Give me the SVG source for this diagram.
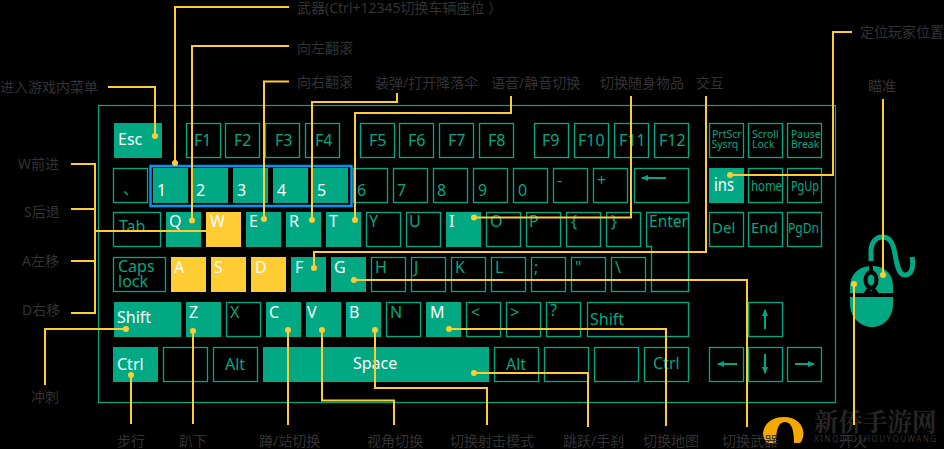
<svg xmlns="http://www.w3.org/2000/svg" width="944" height="449" viewBox="0 0 944 449">
<style>
text{font-family:"Noto Sans","Noto Sans CJK SC",sans-serif;font-size:16px}
.o rect,.o path.b{fill:none;stroke:#00a884;stroke-width:1.3}
.o text{fill:#00a884}
.f rect{fill:#00a884}
.f text{fill:#fff}
.y rect{fill:#ffcc33}
.y text{fill:#fff}
.s text{font-size:15px}
.m text{font-size:10.500px}
.l{fill:#333;font-size:14px}
.ar{fill:none;stroke:#00a884;stroke-width:2;marker-end:url(#ah)}
#connectors path{fill:none;stroke:#ffcc33;stroke-width:2}
#connectors circle{fill:#ffcc33}
</style>
<defs>
<marker id="ah" markerWidth="8" markerHeight="6" refX="6" refY="3" orient="auto" markerUnits="userSpaceOnUse"><path d="M0 0L7 3L0 6Z" fill="#00a884"/></marker>
</defs>
<rect width="944" height="449" fill="#000"/>
<rect id="frame" x="98.500" y="105.500" width="737" height="297" fill="none" stroke="#00a884" stroke-width="1.200"/>

<g id="key-esc" class="f"><rect x="114" y="123" width="48" height="35"/><text x="118" y="145">Esc</text></g>
<g id="key-f1" class="o"><rect x="186.500" y="123.500" width="34" height="34"/><text x="194" y="146">F1</text></g>
<g id="key-f2" class="o"><rect x="225.500" y="123.500" width="34" height="34"/><text x="234" y="146">F2</text></g>
<g id="key-f3" class="o"><rect x="265.500" y="123.500" width="34" height="34"/><text x="275" y="146">F3</text></g>
<g id="key-f4" class="o"><rect x="305.500" y="123.500" width="34" height="34"/><text x="315" y="146">F4</text></g>
<g id="key-f5" class="o"><rect x="360.500" y="123.500" width="34" height="34"/><text x="369" y="146">F5</text></g>
<g id="key-f6" class="o"><rect x="399.500" y="123.500" width="34" height="34"/><text x="408" y="146">F6</text></g>
<g id="key-f7" class="o"><rect x="439.500" y="123.500" width="34" height="34"/><text x="448" y="146">F7</text></g>
<g id="key-f8" class="o"><rect x="479.500" y="123.500" width="34" height="34"/><text x="488" y="146">F8</text></g>
<g id="key-f9" class="o"><rect x="534.500" y="123.500" width="34" height="34"/><text x="542" y="146">F9</text></g>
<g id="key-f10" class="o"><rect x="574.500" y="123.500" width="34" height="34"/><text x="578" y="146">F10</text></g>
<g id="key-f11" class="o"><rect x="614.500" y="123.500" width="34" height="34"/><text x="619" y="146">F11</text></g>
<g id="key-f12" class="o"><rect x="654.500" y="123.500" width="34" height="34"/><text x="659" y="146">F12</text></g>
<g id="key-prtscr" class="o m"><rect x="709.500" y="123.500" width="34" height="34"/><text x="712" y="138">PrtScr</text><text x="711.500" y="148">Sysrq</text></g>
<g id="key-scroll" class="o m"><rect x="748.500" y="123.500" width="34" height="34"/><text x="752" y="138">Scroll</text><text x="752" y="148">Lock</text></g>
<g id="key-pause" class="o m"><rect x="787.500" y="123.500" width="34" height="34"/><text x="791" y="138">Pause</text><text x="791" y="148">Break</text></g>

<g id="key-tilde" class="o"><rect x="113.500" y="168.500" width="34" height="34"/><text x="123" y="194">、</text></g>
<g id="key-1" class="f"><rect x="153" y="168" width="35" height="35"/><text x="157" y="196">1</text></g>
<g id="key-2" class="f"><rect x="193" y="168" width="35" height="35"/><text x="196" y="196">2</text></g>
<g id="key-3" class="f"><rect x="233" y="168" width="35" height="35"/><text x="237" y="196">3</text></g>
<g id="key-4" class="f"><rect x="273" y="168" width="35" height="35"/><text x="277" y="196">4</text></g>
<g id="key-5" class="f"><rect x="313" y="168" width="35" height="35"/><text x="317" y="196">5</text></g>
<g id="key-6" class="o"><rect x="353.500" y="168.500" width="34" height="34"/><text x="357" y="196">6</text></g>
<g id="key-7" class="o"><rect x="393.500" y="168.500" width="34" height="34"/><text x="397" y="196">7</text></g>
<g id="key-8" class="o"><rect x="433.500" y="168.500" width="34" height="34"/><text x="437" y="196">8</text></g>
<g id="key-9" class="o"><rect x="473.500" y="168.500" width="34" height="34"/><text x="478" y="196">9</text></g>
<g id="key-0" class="o"><rect x="513.500" y="168.500" width="34" height="34"/><text x="518" y="196">0</text></g>
<g id="key-minus" class="o"><rect x="553.500" y="168.500" width="34" height="34"/><text x="557" y="186">-</text></g>
<g id="key-plus" class="o"><rect x="593.500" y="168.500" width="34" height="34"/><text x="597" y="186">+</text></g>
<g id="key-back" class="o"><rect x="634.500" y="168.500" width="54" height="34"/><path class="ar" d="M666 178H642"/></g>
<g id="key-ins" class="f"><rect x="709" y="168" width="35" height="35"/><text x="714" y="191" textLength="20" lengthAdjust="spacingAndGlyphs" style="font-size:18px">ins</text></g>
<g id="key-home" class="o s"><rect x="748.500" y="168.500" width="34" height="34"/><text x="751" y="191" textLength="31" lengthAdjust="spacingAndGlyphs">home</text></g>
<g id="key-pgup" class="o s"><rect x="787.500" y="168.500" width="34" height="34"/><text x="791" y="191" textLength="28" lengthAdjust="spacingAndGlyphs">PgUp</text></g>

<g id="key-tab" class="o"><rect x="113.500" y="212.500" width="47" height="34"/><text x="119" y="232">Tab</text></g>
<g id="key-q" class="f"><rect x="166" y="212" width="35" height="35"/><text x="169" y="227">Q</text></g>
<g id="key-w" class="y"><rect x="206" y="212" width="35" height="35"/><text x="210" y="227">W</text></g>
<g id="key-e" class="f"><rect x="246" y="212" width="35" height="35"/><text x="249" y="227">E</text></g>
<g id="key-r" class="f"><rect x="286" y="212" width="35" height="35"/><text x="289" y="227">R</text></g>
<g id="key-t" class="f"><rect x="326" y="212" width="35" height="35"/><text x="329" y="227">T</text></g>
<g id="key-y" class="o"><rect x="366.500" y="212.500" width="34" height="34"/><text x="369" y="227">Y</text></g>
<g id="key-u" class="o"><rect x="406.500" y="212.500" width="34" height="34"/><text x="409" y="227">U</text></g>
<g id="key-i" class="f"><rect x="446" y="212" width="35" height="35"/><text x="449" y="227">I</text></g>
<g id="key-o" class="o"><rect x="486.500" y="212.500" width="34" height="34"/><text x="490" y="227">O</text></g>
<g id="key-p" class="o"><rect x="526.500" y="212.500" width="34" height="34"/><text x="529" y="227">P</text></g>
<g id="key-lb" class="o"><rect x="566.500" y="212.500" width="34" height="34"/><text x="571" y="227">{</text></g>
<g id="key-rb" class="o"><rect x="606.500" y="212.500" width="34" height="34"/><text x="611" y="227">}</text></g>
<g id="key-enter" class="o"><path class="b" d="M646.500 212.500H688.500V291.500H651.500V246.500H646.500Z"/><text x="649" y="227" textLength="39" lengthAdjust="spacingAndGlyphs">Enter</text></g>
<g id="key-del" class="o s"><rect x="709.500" y="212.500" width="34" height="34"/><text x="712" y="233">Del</text></g>
<g id="key-end" class="o s"><rect x="748.500" y="212.500" width="34" height="34"/><text x="751" y="233">End</text></g>
<g id="key-pgdn" class="o s"><rect x="787.500" y="212.500" width="34" height="34"/><text x="788" y="233" textLength="31" lengthAdjust="spacingAndGlyphs">PgDn</text></g>

<g id="key-caps" class="o"><rect x="113.500" y="257.500" width="52" height="34"/><text x="118" y="272">Caps</text><text x="118" y="287">lock</text></g>
<g id="key-a" class="y"><rect x="171" y="257" width="35" height="35"/><text x="174" y="273">A</text></g>
<g id="key-s" class="y"><rect x="211" y="257" width="35" height="35"/><text x="214" y="273">S</text></g>
<g id="key-d" class="y"><rect x="251" y="257" width="35" height="35"/><text x="255" y="273">D</text></g>
<g id="key-f" class="f"><rect x="291" y="257" width="35" height="35"/><text x="295" y="273">F</text></g>
<g id="key-g" class="f"><rect x="331" y="257" width="35" height="35"/><text x="334" y="273">G</text></g>
<g id="key-h" class="o"><rect x="371.500" y="257.500" width="34" height="34"/><text x="375" y="273">H</text></g>
<g id="key-j" class="o"><rect x="411.500" y="257.500" width="34" height="34"/><text x="414" y="273">J</text></g>
<g id="key-k" class="o"><rect x="451.500" y="257.500" width="34" height="34"/><text x="455" y="273">K</text></g>
<g id="key-l" class="o"><rect x="491.500" y="257.500" width="34" height="34"/><text x="495" y="273">L</text></g>
<g id="key-semi" class="o"><rect x="531.500" y="257.500" width="34" height="34"/><text x="534" y="273">;</text></g>
<g id="key-quote" class="o"><rect x="571.500" y="257.500" width="34" height="34"/><text x="575" y="273">"</text></g>
<g id="key-bslash" class="o"><rect x="611.500" y="257.500" width="34" height="34"/><text x="615" y="273">\</text></g>

<g id="key-lshift" class="f"><rect x="114" y="302" width="67" height="35"/><text x="117" y="323">Shift</text></g>
<g id="key-z" class="f"><rect x="186" y="302" width="35" height="35"/><text x="189" y="318">Z</text></g>
<g id="key-x" class="o"><rect x="226.500" y="302.500" width="34" height="34"/><text x="230" y="318">X</text></g>
<g id="key-c" class="f"><rect x="266" y="302" width="35" height="35"/><text x="269" y="318">C</text></g>
<g id="key-v" class="f"><rect x="306" y="302" width="35" height="35"/><text x="307" y="318">V</text></g>
<g id="key-b" class="f"><rect x="346" y="302" width="35" height="35"/><text x="349" y="318">B</text></g>
<g id="key-n" class="o"><rect x="386.500" y="302.500" width="34" height="34"/><text x="390" y="318">N</text></g>
<g id="key-m" class="f"><rect x="426" y="302" width="35" height="35"/><text x="430" y="318">M</text></g>
<g id="key-lt" class="o"><rect x="466.500" y="302.500" width="34" height="34"/><text x="471" y="318">&lt;</text></g>
<g id="key-gt" class="o"><rect x="506.500" y="302.500" width="34" height="34"/><text x="510" y="318">&gt;</text></g>
<g id="key-q2" class="o"><rect x="546.500" y="302.500" width="34" height="34"/><text x="550" y="316">?</text></g>
<g id="key-rshift" class="o"><rect x="587.500" y="302.500" width="101" height="34"/><text x="590" y="325">Shift</text></g>
<g id="key-up" class="o"><rect x="748.500" y="302.500" width="34" height="34"/><path class="ar" d="M765 329V310"/></g>

<g id="key-lctrl" class="f"><rect x="113" y="347" width="45" height="35"/><text x="117" y="370">Ctrl</text></g>
<g id="key-lwin" class="o"><rect x="163.500" y="347.500" width="44" height="34"/></g>
<g id="key-lalt" class="o"><rect x="213.500" y="347.500" width="44" height="34"/><text x="225" y="370">Alt</text></g>
<g id="key-space" class="f"><rect x="263" y="347" width="226" height="35"/><text x="353" y="369">Space</text></g>
<g id="key-ralt" class="o"><rect x="494.500" y="347.500" width="44" height="34"/><text x="506" y="370">Alt</text></g>
<g id="key-rwin" class="o"><rect x="544.500" y="347.500" width="44" height="34"/></g>
<g id="key-menu" class="o"><rect x="594.500" y="347.500" width="44" height="34"/></g>
<g id="key-rctrl" class="o"><rect x="644.500" y="347.500" width="44" height="34"/><text x="653" y="369">Ctrl</text></g>
<g id="key-left" class="o"><rect x="709.500" y="347.500" width="34" height="34"/><path class="ar" d="M737 364H718"/></g>
<g id="key-down" class="o"><rect x="748.500" y="347.500" width="34" height="34"/><path class="ar" d="M765 354V373"/></g>
<g id="key-right" class="o"><rect x="787.500" y="347.500" width="34" height="34"/><path class="ar" d="M795 364H814"/></g>

<rect id="weapon-group" x="150.500" y="166" width="201" height="40" fill="none" stroke="#0096f5" stroke-width="2.500"/>

<g id="mouse">
<path d="M871 261V252C871 242 876 237 882 237C890 237 893 243 895 254C897 266 899 275 905 275C911 275 914 268 912 257" fill="none" stroke="#00a884" stroke-width="5"/>
<path d="M850 293V287C850 273 860 266 872 266C884 266 893 273 893 287V293Z" fill="#00a884"/>
<path d="M850 297H893V304C893 317 884 327 872 327C860 327 850 317 850 304Z" fill="#00a884"/>
<path d="M871 265V286L876 293H866L871 286Z" fill="none" stroke="#000" stroke-width="4"/>
<ellipse cx="871" cy="280" rx="7.500" ry="10" fill="#000"/>
<ellipse cx="871" cy="280" rx="3.500" ry="5.500" fill="#00a884"/>
</g>

<g id="watermark">
<path d="M763 433C764 424 771 417 784 417C796 417 803 424 803.500 433C803.500 437 802 441 800 443H794C794 431 792 422 785 422C778 422 776 431 776 443H767C765 441 763 437 763 433Z" fill="#f5a800"/>
<text x="814" y="431" style="font-family:'Noto Serif CJK SC','Noto Sans CJK SC',serif;font-size:24.500px;font-weight:700;fill:#262626">新侨手游网</text>
<text x="814" y="442" style="font-size:8px;letter-spacing:1.500px;fill:#333">XINQIAOSHOUYOUWANG</text>
</g>

<g id="connectors">
<path d="M175 164V7H289"/><circle cx="175" cy="163" r="3"/>
<path d="M192 220V46H289"/><circle cx="192" cy="220.500" r="3"/>
<path d="M264 219V81.500H289"/><circle cx="264" cy="219" r="3"/>
<path d="M312 220V102H397V93"/><circle cx="312" cy="220" r="3"/>
<path d="M355 220V113H511V96"/><circle cx="355" cy="220" r="3"/>
<path d="M474 217.500H631V96"/><circle cx="474" cy="217.500" r="3"/>
<path d="M314 268V252H706V96"/><circle cx="314" cy="268" r="3"/>
<path d="M730 175H833V32H852"/><circle cx="730" cy="175" r="3"/>
<path d="M883 275V99"/><circle cx="883" cy="275" r="3"/>
<path d="M854 284V425"/><circle cx="854" cy="284" r="3"/>
<path d="M108 87H155V136"/><circle cx="155" cy="136" r="3"/>
<path d="M71 164H95V313H71M71 209H95M71 261H95M95 231H206"/>
<path d="M126 329H45V385"/><circle cx="126" cy="329" r="3"/>
<path d="M131 375V424"/><circle cx="131" cy="375" r="3"/>
<path d="M193 331V424"/><circle cx="193" cy="331" r="3"/>
<path d="M288 330V425"/><circle cx="288" cy="330" r="3"/>
<path d="M322 330V400.500H394V425"/><circle cx="322" cy="330" r="3"/>
<path d="M375 330V388H487V425"/><circle cx="375" cy="330" r="3"/>
<path d="M354 280H747V427"/><circle cx="354" cy="280" r="3"/>
<path d="M449 329H666V426"/><circle cx="449" cy="329" r="3"/>
<path d="M474 373H588V427"/><circle cx="474" cy="373" r="3"/>
</g>

<g id="labels">
<text class="l" x="297" y="13">武器(Ctrl+12345切换车辆座位 ）</text>
<text class="l" x="297" y="53">向左翻滚</text>
<text class="l" x="297" y="87">向右翻滚</text>
<text class="l" x="375" y="88">装弹/打开降落伞</text>
<text class="l" x="491" y="88">语音/静音切换</text>
<text class="l" x="600" y="88">切换随身物品</text>
<text class="l" x="696" y="88">交互</text>
<text class="l" x="860" y="37">定位玩家位置</text>
<text class="l" x="868" y="91">瞄准</text>
<text class="l" x="0" y="92">进入游戏内菜单</text>
<text class="l" x="18" y="169">W前进</text>
<text class="l" x="24" y="217">S后退</text>
<text class="l" x="22" y="266">A左移</text>
<text class="l" x="22" y="315">D右移</text>
<text class="l" x="31" y="402">冲刺</text>
<text class="l" x="117" y="446">步行</text>
<text class="l" x="179" y="446">趴下</text>
<text class="l" x="259" y="446">蹲/站切换</text>
<text class="l" x="367" y="446">视角切换</text>
<text class="l" x="450" y="446">切换射击模式</text>
<text class="l" x="563" y="446">跳跃/手刹</text>
<text class="l" x="643" y="446">切换地图</text>
<text class="l" x="722" y="446">切换武器</text>
<text class="l" x="839" y="446">开火</text>
</g>
</svg>
